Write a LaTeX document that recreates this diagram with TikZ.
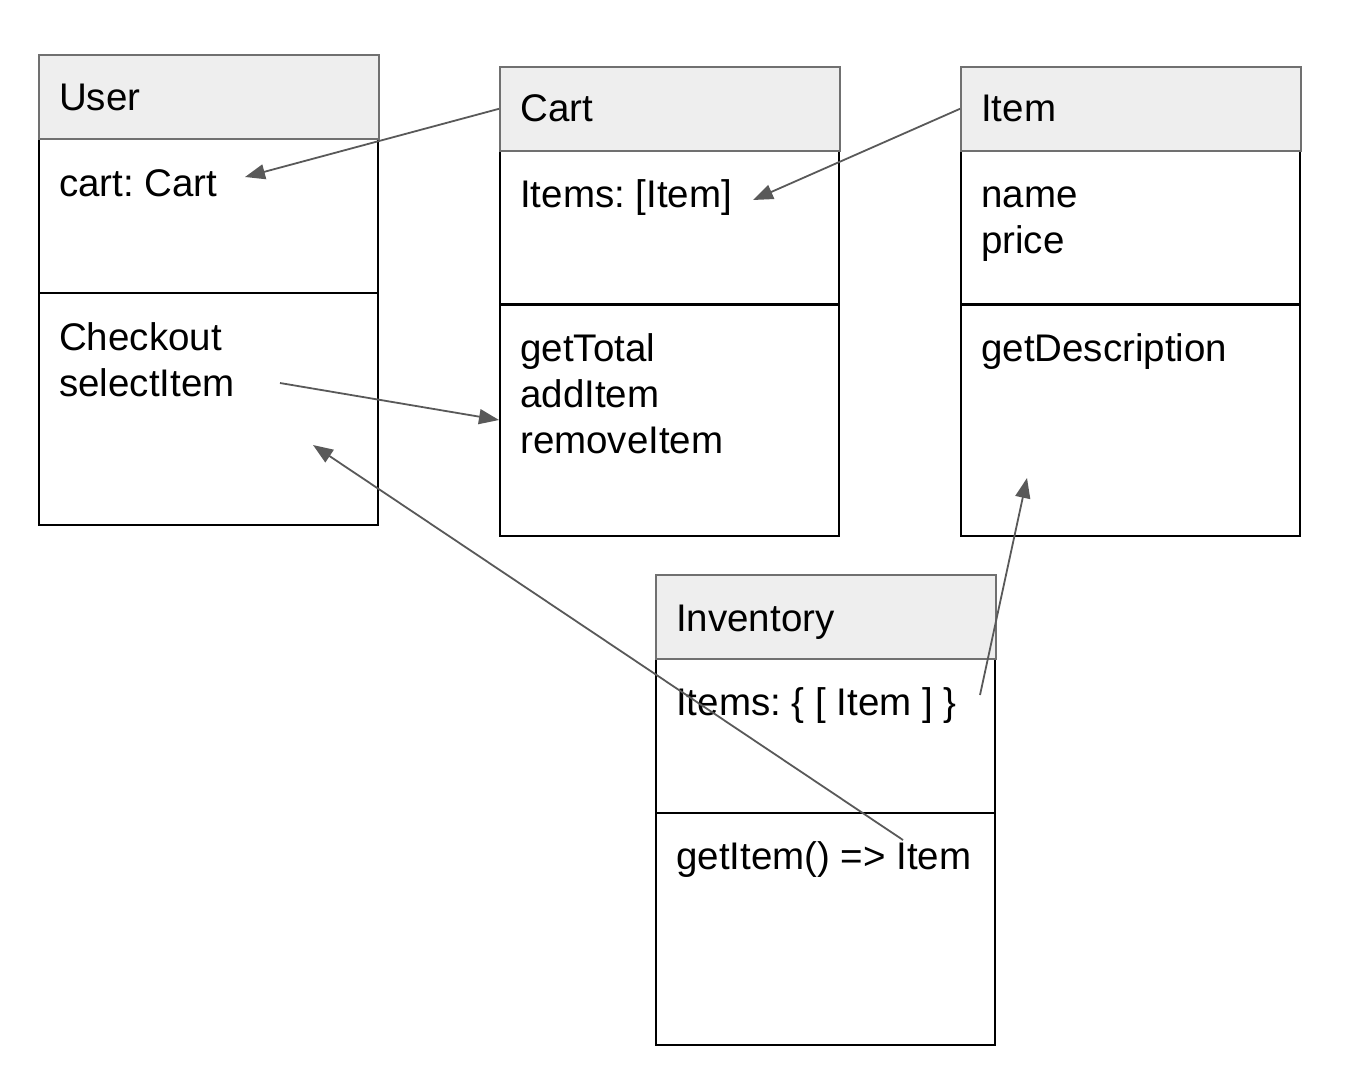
\documentclass[tikz,border=0pt]{standalone}
\usepackage{fontspec}
\setmainfont{Liberation Sans}
\usetikzlibrary{arrows.meta}
\definecolor{hdrfill}{HTML}{EEEEEE}
\definecolor{hdrline}{HTML}{707070}
\definecolor{arr}{HTML}{595959}
\frenchspacing
\begin{document}
\begin{tikzpicture}[x=1pt,y=-1pt,
  hdr/.style={draw=hdrline,line width=1.6pt,fill=hdrfill,anchor=north west,minimum width=340pt,minimum height=84pt,inner sep=0pt},
  attrbox/.style={draw=black,line width=2pt,anchor=north west,minimum width=339pt,minimum height=154pt,inner sep=0pt},
  methbox/.style={draw=black,line width=2pt,anchor=north west,minimum width=339pt,minimum height=232pt,inner sep=0pt},
  txt/.style={anchor=base west,inner sep=0pt,align=left,font=\fontsize{38.5}{46}\selectfont},
  link/.style={draw=arr,line width=1.8pt,-{Triangle[length=20pt,width=15pt]}}]
\useasboundingbox (0,0) rectangle (1362,1082);
% User
\node[attrbox] (userattr) at (38,138) {};
\node[methbox] (usermeth) at (38,292) {};
\node[hdr] (userhead) at (38,54) {};
\node[txt] (usert) at (59,110.5) {User};
\node[txt] (usera) at (59,196.5) {cart: Cart};
\node[txt] (userm) at (59,396.5) {Checkout\\selectItem};
% Cart
\node[attrbox] (cartattr) at (499,150) {};
\node[methbox] (cartmeth) at (499,303) {};
\node[hdr] (carthead) at (499,66) {};
\node[txt] (cartt) at (520,121.5) {Cart};
\node[txt] (carta) at (520,207.5) {Items: [Item]};
\node[txt] (cartm) at (520,453.5) {getTotal\\addItem\\removeItem};
% Item
\node[attrbox] (itemattr) at (960,150) {};
\node[methbox] (itemmeth) at (960,303) {};
\node[hdr] (itemhead) at (960,66) {};
\node[txt] (itemt) at (981,121.5) {Item};
\node[txt] (itema) at (981,253.5) {name\\price};
\node[txt] (itemm) at (981,361.5) {getDescription};
% Inventory
\node[attrbox] (invattr) at (655,658) {};
\node[methbox] (invmeth) at (655,812) {};
\node[hdr] (invhead) at (655,574) {};
\node[txt] (invt) at (676,631.5) {Inventory};
\node[txt] (inva) at (676,715.5) {Items: \{ [ Item ] \}};
\node[txt] (invm) at (676,869.5) {getItem() =\kern0pt> Item};
% connector free ends
\coordinate (cartref) at (245,177);
\coordinate (itemsref) at (753,200);
\coordinate (selsrc) at (280,383);
\coordinate (getsrc) at (903,840);
\coordinate (seltgt) at (313,445);
\coordinate (invsrc) at (980,695);
\coordinate (desctgt) at (1027,478);
% connectors
\draw[link] (carthead.west) -- (cartref);
\draw[link] (itemhead.west) -- (itemsref);
\draw[link] (selsrc) -- (cartmeth.west);
\draw[link] (getsrc) -- (seltgt);
\draw[link] (invsrc) -- (desctgt);
\end{tikzpicture}
\end{document}
